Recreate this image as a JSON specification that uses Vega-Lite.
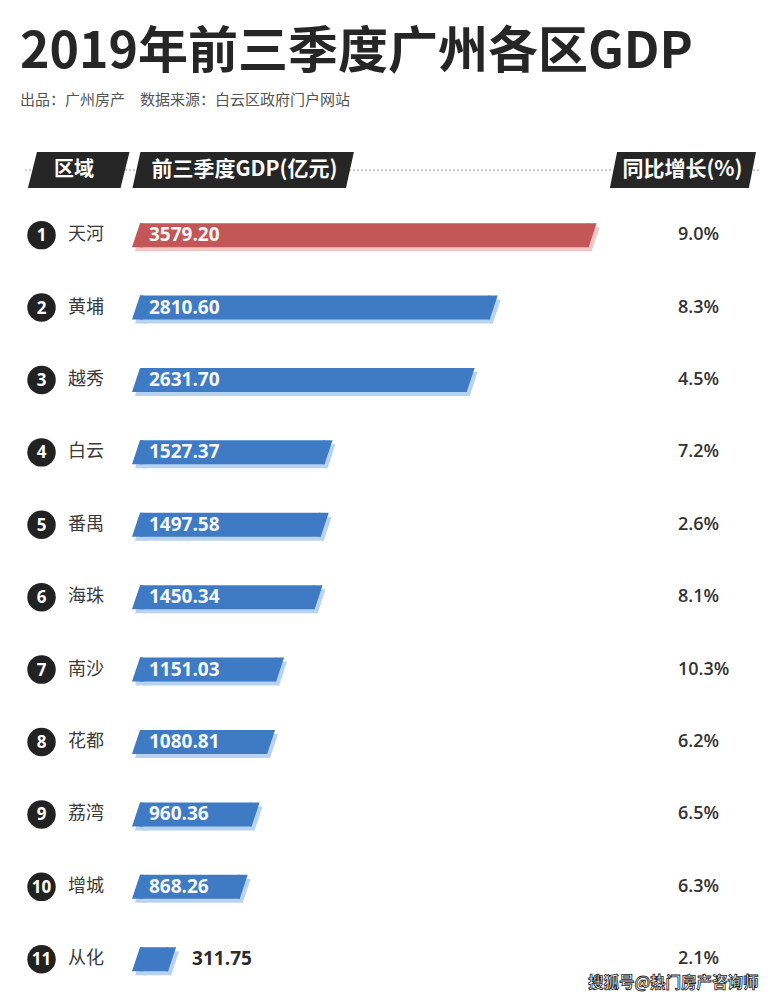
{
  "$schema": "https://vega.github.io/schema/vega-lite/v6.json",
  "width": 773,
  "height": 1000,
  "autosize": {"type": "fit", "contains": "padding"},
  "padding": {"top": 28, "left": 0, "right": 0, "bottom": 0},
  "background": "white",
  "config": {"view": {"stroke": null}},
  "title": {
    "text": "2019年前三季度广州各区GDP",
    "subtitle": "出品：广州房产　数据来源：白云区政府门户网站",
    "anchor": "start",
    "frame": "group",
    "dx": 20,
    "font": "Noto Sans CJK SC",
    "fontSize": 50,
    "fontWeight": "bold",
    "color": "#262626",
    "subtitleFont": "Noto Sans CJK SC",
    "subtitleFontSize": 15,
    "subtitleColor": "#555555",
    "subtitlePadding": 15,
    "offset": 6
  },
  "data": {
    "values": [
      {"rank": 1, "district": "天河", "gdp": 3579.20, "growth": 0.090},
      {"rank": 2, "district": "黄埔", "gdp": 2810.60, "growth": 0.083},
      {"rank": 3, "district": "越秀", "gdp": 2631.70, "growth": 0.045},
      {"rank": 4, "district": "白云", "gdp": 1527.37, "growth": 0.072},
      {"rank": 5, "district": "番禺", "gdp": 1497.58, "growth": 0.026},
      {"rank": 6, "district": "海珠", "gdp": 1450.34, "growth": 0.081},
      {"rank": 7, "district": "南沙", "gdp": 1151.03, "growth": 0.103},
      {"rank": 8, "district": "花都", "gdp": 1080.81, "growth": 0.062},
      {"rank": 9, "district": "荔湾", "gdp": 960.36, "growth": 0.065},
      {"rank": 10, "district": "增城", "gdp": 868.26, "growth": 0.063},
      {"rank": 11, "district": "从化", "gdp": 311.75, "growth": 0.021}
    ]
  },
  "layer": [
    {
      "mark": {"type": "bar", "orient": "horizontal", "size": 24, "xOffset": -1, "x2Offset": 11, "yOffset": 4},
      "encoding": {
        "x": {"field": "gdp", "type": "quantitative", "scale": {"domain": [-1025.6, 4980.6], "nice": false, "zero": false}, "axis": null},
        "x2": {"datum": 0},
        "y": {"field": "rank", "type": "quantitative", "scale": {"domain": [-0.604, 11.494], "reverse": true, "nice": false, "zero": false}, "axis": null},
        "color": {"condition": {"test": "datum.rank === 1", "value": "#f3c6c6"}, "value": "#b8d3f2"}
      }
    },
    {
      "mark": {"type": "point", "filled": true, "opacity": 1, "strokeWidth": 0, "size": 576, "shape": "M0,1L0.667,-1L0.95,-1L0.95,1Z", "xOffset": 3, "yOffset": 4},
      "encoding": {
        "x": {"datum": 0, "type": "quantitative"},
        "y": {"field": "rank", "type": "quantitative"},
        "color": {"condition": {"test": "datum.rank === 1", "value": "#f3c6c6"}, "value": "#b8d3f2"}
      }
    },
    {
      "mark": {"type": "point", "filled": true, "opacity": 1, "strokeWidth": 0, "size": 576, "shape": "M-0.45,1L-0.333,1L0.333,-1L-0.45,-1Z", "xOffset": 3, "yOffset": 4},
      "encoding": {
        "x": {"field": "gdp", "type": "quantitative"},
        "y": {"field": "rank", "type": "quantitative"},
        "color": {"condition": {"test": "datum.rank === 1", "value": "#f3c6c6"}, "value": "#b8d3f2"}
      }
    },
    {
      "mark": {"type": "bar", "orient": "horizontal", "size": 24, "xOffset": -4, "x2Offset": 8},
      "encoding": {
        "x": {"field": "gdp", "type": "quantitative"},
        "x2": {"datum": 0},
        "y": {"field": "rank", "type": "quantitative"},
        "color": {"condition": {"test": "datum.rank === 1", "value": "#c35656"}, "value": "#3e7bc4"}
      }
    },
    {
      "mark": {"type": "point", "filled": true, "opacity": 1, "strokeWidth": 0, "size": 576, "shape": "M0,1L0.667,-1L0.95,-1L0.95,1Z"},
      "encoding": {
        "x": {"datum": 0, "type": "quantitative"},
        "y": {"field": "rank", "type": "quantitative"},
        "color": {"condition": {"test": "datum.rank === 1", "value": "#c35656"}, "value": "#3e7bc4"}
      }
    },
    {
      "mark": {"type": "point", "filled": true, "opacity": 1, "strokeWidth": 0, "size": 576, "shape": "M-0.45,1L-0.333,1L0.333,-1L-0.45,-1Z"},
      "encoding": {
        "x": {"field": "gdp", "type": "quantitative"},
        "y": {"field": "rank", "type": "quantitative"},
        "color": {"condition": {"test": "datum.rank === 1", "value": "#c35656"}, "value": "#3e7bc4"}
      }
    },
    {
      "transform": [{"filter": "datum.gdp >= 500"}],
      "mark": {"type": "text", "align": "left", "baseline": "middle", "dx": 17, "font": "Open Sans", "fontSize": 19, "fontWeight": "bold", "color": "#f7f7f7"},
      "encoding": {
        "x": {"datum": 0, "type": "quantitative"},
        "y": {"field": "rank", "type": "quantitative"},
        "text": {"field": "gdp", "type": "quantitative", "format": ".2f"}
      }
    },
    {
      "transform": [{"filter": "datum.gdp < 500"}],
      "mark": {"type": "text", "align": "left", "baseline": "middle", "dx": 20, "font": "Open Sans", "fontSize": 19, "fontWeight": "bold", "color": "#2b2b2b"},
      "encoding": {
        "x": {"field": "gdp", "type": "quantitative"},
        "y": {"field": "rank", "type": "quantitative"},
        "text": {"field": "gdp", "type": "quantitative", "format": ".2f"}
      }
    },
    {
      "mark": {"type": "point", "filled": true, "opacity": 1, "strokeWidth": 0, "size": 810, "shape": "circle", "color": "#222222"},
      "encoding": {
        "x": {"datum": -703, "type": "quantitative"},
        "y": {"field": "rank", "type": "quantitative"}
      }
    },
    {
      "mark": {"type": "text", "align": "center", "baseline": "middle", "font": "Open Sans", "fontSize": 17, "fontWeight": "bold", "color": "#ffffff", "dy": 1},
      "encoding": {
        "x": {"datum": -703, "type": "quantitative"},
        "y": {"field": "rank", "type": "quantitative"},
        "text": {"field": "rank", "type": "quantitative"}
      }
    },
    {
      "mark": {"type": "text", "align": "left", "baseline": "middle", "font": "Noto Sans CJK SC", "fontSize": 18, "color": "#3a3a3a"},
      "encoding": {
        "x": {"datum": -497, "type": "quantitative"},
        "y": {"field": "rank", "type": "quantitative"},
        "text": {"field": "district", "type": "nominal"}
      }
    },
    {
      "mark": {"type": "text", "align": "left", "baseline": "middle", "font": "Open Sans", "fontSize": 18, "fontWeight": 600, "color": "#333333"},
      "encoding": {
        "x": {"datum": 4242, "type": "quantitative"},
        "y": {"field": "rank", "type": "quantitative"},
        "text": {"field": "growth", "type": "quantitative", "format": ".1%"}
      }
    },
    {
      "data": {"values": [{"row": "header"}]},
      "mark": {"type": "rule", "strokeDash": [2, 2], "strokeWidth": 1, "color": "#9a9a9a"},
      "encoding": {
        "x": {"datum": -831, "type": "quantitative"},
        "x2": {"datum": 4880},
        "y": {"datum": 0.101, "type": "quantitative"}
      }
    },
    {
      "data": {"values": [{"header": "区域"}]},
      "mark": {"type": "point", "filled": true, "opacity": 1, "strokeWidth": 0, "size": 1296, "shape": "M-2.82,1L-2.32,-1L2.82,-1L2.32,1Z", "color": "#262626"},
      "encoding": {
        "x": {"datum": -414, "type": "quantitative"},
        "y": {"datum": 0.101, "type": "quantitative"}
      }
    },
    {
      "data": {"values": [{"header": "区域"}]},
      "mark": {"type": "text", "align": "center", "baseline": "middle", "font": "Noto Sans CJK SC", "fontSize": 20, "fontWeight": "bold", "color": "#ffffff"},
      "encoding": {
        "x": {"datum": -450, "type": "quantitative"},
        "y": {"datum": 0.101, "type": "quantitative"},
        "text": {"field": "header", "type": "nominal"}
      }
    },
    {
      "data": {"values": [{"header": "前三季度GDP(亿元)"}]},
      "mark": {"type": "point", "filled": true, "opacity": 1, "strokeWidth": 0, "size": 1296, "shape": "M-6.15,1L-5.71,-1L6.15,-1L5.71,1Z", "color": "#262626"},
      "encoding": {
        "x": {"datum": 864, "type": "quantitative"},
        "y": {"datum": 0.101, "type": "quantitative"}
      }
    },
    {
      "data": {"values": [{"header": "前三季度GDP(亿元)"}]},
      "mark": {"type": "text", "align": "center", "baseline": "middle", "font": "Noto Sans CJK SC", "fontSize": 21, "fontWeight": "bold", "color": "#ffffff"},
      "encoding": {
        "x": {"datum": 874, "type": "quantitative"},
        "y": {"datum": 0.101, "type": "quantitative"},
        "text": {"field": "header", "type": "nominal"}
      }
    },
    {
      "data": {"values": [{"header": "同比增长(%)"}]},
      "mark": {"type": "point", "filled": true, "opacity": 1, "strokeWidth": 0, "size": 1296, "shape": "M-4.06,1L-3.66,-1L4.06,-1L3.66,1Z", "color": "#262626"},
      "encoding": {
        "x": {"datum": 4281, "type": "quantitative"},
        "y": {"datum": 0.101, "type": "quantitative"}
      }
    },
    {
      "data": {"values": [{"header": "同比增长(%)"}]},
      "mark": {"type": "text", "align": "center", "baseline": "middle", "font": "Noto Sans CJK SC", "fontSize": 21, "fontWeight": "bold", "color": "#ffffff"},
      "encoding": {
        "x": {"datum": 4277, "type": "quantitative"},
        "y": {"datum": 0.101, "type": "quantitative"},
        "text": {"field": "header", "type": "nominal"}
      }
    },
    {
      "data": {"values": [{"note": "搜狐号@热门房产咨询师"}]},
      "mark": {"type": "text", "align": "left", "baseline": "middle", "font": "Noto Sans CJK SC", "fontSize": 15.5, "fontWeight": "bold", "color": "#ffffff", "stroke": "#222222", "strokeWidth": 0.8},
      "encoding": {
        "x": {"datum": 3543, "type": "quantitative"},
        "y": {"datum": 11.33, "type": "quantitative"},
        "text": {"field": "note", "type": "nominal"}
      }
    }
  ]
}
